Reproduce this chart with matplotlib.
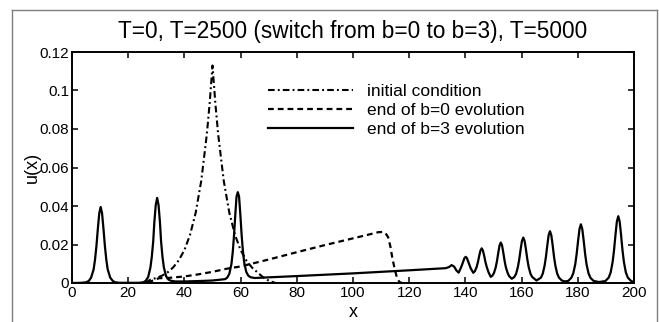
import matplotlib
matplotlib.use("Agg")
import matplotlib.pyplot as plt
from matplotlib.lines import Line2D

plt.rcParams["font.family"] = ["Liberation Sans", "DejaVu Sans"]

# initial condition (dash-dot)
init_x = [26, 28, 30, 32, 34, 36, 38, 40, 42, 44, 46, 48, 49, 50, 51, 52, 54,
          56, 58, 60, 62, 64, 66, 68, 70, 72, 74, 76, 78]
init_y = [0.0, 0.0018, 0.0026, 0.0038, 0.0055, 0.0081, 0.0118, 0.0171, 0.025,
          0.0364, 0.0531, 0.0775, 0.0936, 0.113, 0.0936, 0.0775, 0.0531,
          0.0364, 0.025, 0.0171, 0.0118, 0.0081, 0.0055, 0.003, 0.0012,
          0.0002, -0.0005, -0.0004, 0.0]

# end of b=0 evolution (dashed)
b0_x = [27, 29, 31, 34, 40, 45, 50, 55, 60, 70, 80, 90, 100, 106, 109, 110.5,
        111.5, 112.5, 113.3, 114.0, 114.8, 115.6, 116.5, 117.5]
b0_y = [0.0, 0.0015, 0.0025, 0.0026, 0.0034, 0.0045, 0.0058, 0.0074, 0.0086,
        0.0122, 0.016, 0.0197, 0.0232, 0.0253, 0.0264, 0.0265, 0.026, 0.0238,
        0.019, 0.013, 0.0075, 0.003, 0.0005, 0.0]

# end of b=3 evolution (solid)
b3_x = [0.0, 3.4, 5.1, 6.0, 6.8, 7.7, 8.2, 8.7, 9.2, 9.7, 10.2, 10.7, 11.2,
        11.7, 12.2, 12.7, 13.6, 14.5, 15.3, 17.0,
        23.9, 25.5, 26.3, 27.1, 27.9, 28.4, 28.9, 29.3, 29.8, 30.3, 30.8, 31.3,
        31.7, 32.2, 32.7, 33.5, 34.3, 35.1, 36.7, 40.0, 45.0, 50.0,
        53.0, 54.5, 55.25, 56.0, 56.75, 57.2, 57.65, 58.1, 58.55, 59.0, 59.45,
        59.9, 60.35, 60.8, 61.25, 62.0, 62.75, 63.5, 65.0,
        80.0, 100.0, 120.0, 133.0, 134.2, 135.1, 136.0, 136.8, 137.6,
        138.3, 138.75, 139.2, 139.65, 140.1, 140.55, 141.0, 141.45, 141.9, 142.8,
        143.4, 144.0, 144.45, 144.9, 145.35, 145.8, 146.25, 146.7, 147.15,
        147.6, 148.2, 149.0,
        149.6, 150.2, 150.8, 151.25, 151.7, 152.15, 152.6, 153.05, 153.5,
        153.95, 154.4, 155.0, 155.6, 156.5,
        157.4, 158.04, 158.68, 159.16, 159.64, 160.12, 160.6, 161.08, 161.56,
        162.04, 162.52, 163.16, 163.8, 165.3,
        166.9, 167.54, 168.18, 168.66, 169.14, 169.62, 170.1, 170.58, 171.06,
        171.54, 172.02, 172.66, 173.3, 174.3, 175.5,
        176.6, 177.7, 178.4, 179.1, 179.6, 180.1, 180.6, 181.1, 181.6, 182.1,
        182.6, 183.1, 183.8, 184.5, 185.6, 187.5,
        189.8, 191.0, 191.7, 192.4, 192.9, 193.4, 193.9, 194.4, 194.9, 195.4,
        195.9, 196.4, 197.1, 197.8, 199.0, 200.0]
b3_y = [0.0, 0.0001, 0.0004, 0.0011, 0.0028, 0.0071, 0.0122, 0.0193, 0.0282,
        0.0362, 0.0395, 0.0362, 0.0282, 0.0193, 0.0122, 0.0071, 0.0028, 0.0011,
        0.0004, 0.0001,
        0.0001, 0.0004, 0.0012, 0.0031, 0.008, 0.0136, 0.0216, 0.0315, 0.0405,
        0.0442, 0.0405, 0.0315, 0.0216, 0.0136, 0.008, 0.0035, 0.0018, 0.0012,
        0.0008, 0.0008, 0.001, 0.0013,
        0.0018, 0.002, 0.0028, 0.0048, 0.01, 0.016, 0.0245, 0.0352, 0.0448,
        0.0472, 0.045, 0.0358, 0.0253, 0.017, 0.011, 0.0058, 0.0038, 0.003,
        0.0026,
        0.0036, 0.005, 0.0066, 0.0077, 0.0083, 0.0093, 0.0085, 0.0065, 0.0054,
        0.0076, 0.0092, 0.0111, 0.0129, 0.0136, 0.0129, 0.0111, 0.0092, 0.0076,
        0.0053,
        0.0062, 0.0083, 0.0108, 0.014, 0.0168, 0.018, 0.0168, 0.014, 0.0108,
        0.0083, 0.0057, 0.0032,
        0.0038, 0.0053, 0.0082, 0.0115, 0.0157, 0.0195, 0.021, 0.0195, 0.0157,
        0.0115, 0.0082, 0.0053, 0.0035, 0.0022,
        0.0031, 0.0048, 0.0083, 0.0123, 0.0173, 0.0218, 0.0236, 0.0218, 0.0173,
        0.0123, 0.0083, 0.0048, 0.0031, 0.0013,
        0.0028, 0.0049, 0.009, 0.0136, 0.0195, 0.0248, 0.0269, 0.0248, 0.0195,
        0.0136, 0.009, 0.0049, 0.0028, 0.0013, 0.0008,
        0.0011, 0.0027, 0.0051, 0.0098, 0.0152, 0.0219, 0.028, 0.0305, 0.028,
        0.0219, 0.0152, 0.0098, 0.0051, 0.0027, 0.0011, 0.0005,
        0.001, 0.0028, 0.0055, 0.011, 0.0171, 0.0249, 0.0319, 0.0347, 0.0319,
        0.0249, 0.0171, 0.011, 0.0055, 0.0028, 0.001, 0.0005]

x_ticks = [0, 20, 40, 60, 80, 100, 120, 140, 160, 180, 200]
y_ticks = [0, 0.02, 0.04, 0.06, 0.08, 0.1, 0.12]
y_tick_labels = ["0", "0.02", "0.04", "0.06", "0.08", "0.1", "0.12"]

W, H = 659, 322
fig = plt.figure(figsize=(W / 100, H / 100), dpi=100)
ax = fig.add_axes([72 / W, 1 - 283 / H, (634 - 72) / W, (283 - 52) / H])

ax.plot(init_x, init_y, color="black", lw=1.5,
        linestyle=(0, (3.2, 1.5, 0.9, 1.5)), label="initial condition")
ax.plot(b0_x, b0_y, color="black", lw=1.6,
        linestyle=(0, (2.6, 1.8)), label="end of b=0 evolution")
ax.plot(b3_x, b3_y, color="black", lw=1.6, label="end of b=3 evolution")

ax.set_xlim(0, 200)
ax.set_ylim(0, 0.12)
ax.set_xticks(x_ticks)
ax.set_xticklabels([str(t) for t in x_ticks])
ax.set_yticks(y_ticks)
ax.set_yticklabels(y_tick_labels)
ax.tick_params(direction="in", top=True, right=True, length=4, width=1.1,
               labelsize=11, pad=2)
for s in ax.spines.values():
    s.set_linewidth(1.4)

ax.set_title("T=0, T=2500 (switch from b=0 to b=3), T=5000", fontsize=16.3,
             pad=10)
ax.set_xlabel("x", fontsize=13, labelpad=3)
ax.set_ylabel("u(x)", fontsize=13, labelpad=-1)

ax.legend(loc="upper left", bbox_to_anchor=(268 / W, 1 - 84 / H),
          bbox_transform=fig.transFigure, frameon=False, fontsize=12.5,
          handlelength=4.9, handletextpad=0.8, labelspacing=0.22,
          borderpad=0, borderaxespad=0)

# grey page frame around the figure (bottom edge cut off)
frame_kw = dict(color="#7f7f7f", lw=1.0, transform=fig.transFigure)
fig.add_artist(Line2D([12 / W, 12 / W], [0, 1 - 10 / H], **frame_kw))
fig.add_artist(Line2D([12 / W, 657 / W], [1 - 10 / H, 1 - 10 / H], **frame_kw))
fig.add_artist(Line2D([657 / W, 657 / W], [0, 1 - 10 / H], **frame_kw))

fig.savefig("out.png", dpi=100)
